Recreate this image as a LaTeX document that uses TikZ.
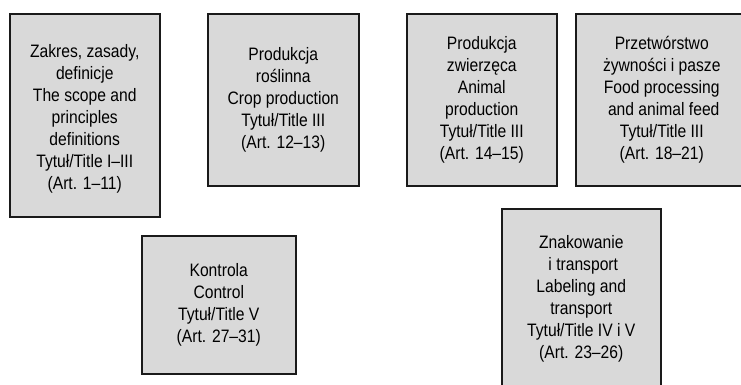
\documentclass[tikz,border=0pt]{standalone}
\usepackage{fontspec}
\setmainfont{Liberation Sans}[FakeStretch=0.87]
\definecolor{boxgray}{HTML}{D9D9D9}
\definecolor{boxline}{HTML}{1A1A1A}
\begin{document}
\begin{tikzpicture}[x=1pt,y=-1pt,
  box/.style={draw=boxline, line width=1.5pt, fill=boxgray, inner sep=0pt,
    align=center, anchor=north west,
    font=\fontsize{18}{22}\selectfont}]
\useasboundingbox (0,0) rectangle (741,384);

\node[box, minimum width=150pt, minimum height=203pt] (scope) at (9,13)
  {\rule{0pt}{20pt}Zakres, zasady,\\definicje\\The scope and\\principles\\definitions\\Tytuł/Title I–III\\(Art. 1–11)};
\node[box, minimum width=151pt, minimum height=172pt] (crop) at (207,13)
  {Produkcja\\roślinna\\Crop production\\Tytuł/Title III\\(Art. 12–13)};
\node[box, minimum width=150pt, minimum height=172pt] (animal) at (406,13)
  {Produkcja\\zwierzęca\\Animal\\production\\Tytuł/Title III\\(Art. 14–15)};
\node[box, minimum width=172pt, minimum height=172pt] (food) at (575,13)
  {Przetwórstwo\\żywności i pasze\\Food processing\\\hspace*{4pt}and animal feed\\Tytuł/Title III\\(Art. 18–21)};
\node[box, minimum width=154pt, minimum height=138pt] (control) at (141,235)
  {Kontrola\\Control\\Tytuł/Title V\\(Art. 27–31)};
\node[box, minimum width=159pt, minimum height=180pt] (label) at (501,208)
  {Znakowanie\\\hspace*{4pt}i transport\\Labeling and\\transport\\Tytuł/Title IV i V\\(Art. 23–26)};
\end{tikzpicture}
\end{document}
